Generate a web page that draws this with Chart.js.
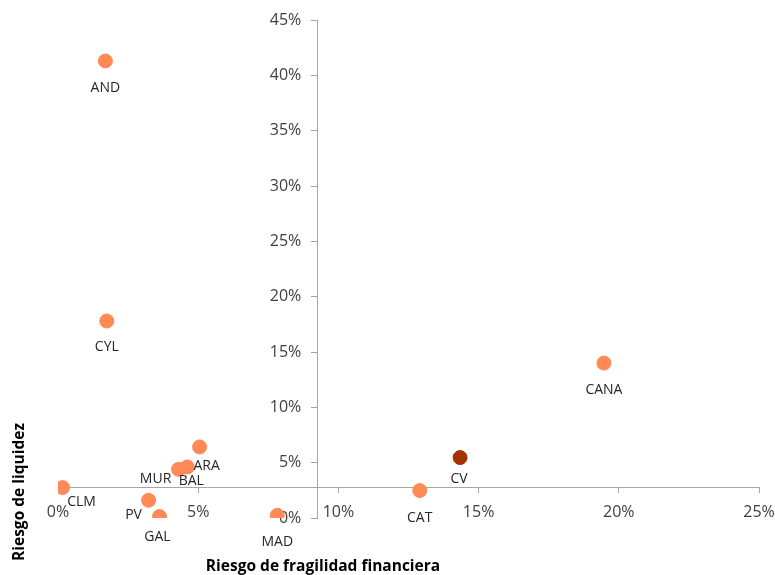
<!DOCTYPE html>
<html>
<head>
<meta charset="utf-8">
<script src="https://cdn.jsdelivr.net/npm/chart.js@4/dist/chart.umd.min.js"></script>
<style>
  body { margin: 0; background: #fff; }
  canvas { display: block; }
</style>
</head>
<body>
<canvas id="riskChart" width="775" height="575"></canvas>
<script>
// regiones y valores (fracciones)
const regions = ['AND', 'CYL', 'CANA', 'CV', 'CAT', 'ARA', 'BAL', 'MUR', 'CLM', 'PV', 'GAL', 'MAD'];
const fragilidad = [0.0169, 0.0174, 0.1947, 0.1434, 0.1290, 0.0505, 0.0461, 0.0430, 0.0016, 0.0323, 0.0362, 0.0782];
const liquidez = [0.413, 0.178, 0.140, 0.0546, 0.0248, 0.0642, 0.0461, 0.0440, 0.0275, 0.0160, 0.0013, 0.0024];
const xTicks = [0, 0.05, 0.10, 0.15, 0.20, 0.25];
const yTicks = [0, 0.05, 0.10, 0.15, 0.20, 0.25, 0.30, 0.35, 0.40, 0.45];
// cruce de ejes
const crossX = 0.0927;
const crossY = 0.028;

// desplazamiento de las etiquetas respecto al punto (px)
const labelOffsets = [[0, 27], [0, 26], [0, 27], [-1, 21], [0, 27], [7, 19], [4, 14], [-23, 10], [19, 14], [-15, 15], [-2, 20], [0, 27]];

const orange = '#FF8A55';
const dark = '#A33300';
const colors = regions.map(r => r === 'CV' ? dark : orange);

const pointLabels = {
  id: 'pointLabels',
  afterDatasetsDraw(chart) {
    const ctx = chart.ctx;
    const meta = chart.getDatasetMeta(0);
    ctx.save();
    ctx.font = '14px "Open Sans", sans-serif';
    ctx.fillStyle = '#262626';
    ctx.textAlign = 'center';
    ctx.textBaseline = 'middle';
    meta.data.forEach((pt, i) => {
      ctx.fillText(regions[i], pt.x + labelOffsets[i][0], pt.y + labelOffsets[i][1]);
    });
    ctx.restore();
  }
};

const axisTitles = {
  id: 'axisTitles',
  afterDraw(chart) {
    const ctx = chart.ctx;
    ctx.save();
    ctx.font = 'bold 15.5px "Open Sans", sans-serif';
    ctx.fillStyle = '#000';
    ctx.textAlign = 'center';
    ctx.textBaseline = 'middle';
    ctx.fillText('Riesgo de fragilidad financiera', 323, 567);
    ctx.translate(20, 492);
    ctx.rotate(-Math.PI / 2);
    ctx.fillText('Riesgo de liquidez', 0, 0);
    ctx.restore();
  }
};

const pct = v => Math.round(v * 100) + '%';

new Chart(document.getElementById('riskChart').getContext('2d'), {
  type: 'scatter',
  data: {
    datasets: [{
      data: regions.map((r, i) => ({ x: fragilidad[i], y: liquidez[i] })),
      backgroundColor: colors,
      borderColor: colors,
      pointRadius: 7,
      pointHoverRadius: 7
    }]
  },
  options: {
    responsive: false,
    animation: false,
    layout: { padding: { left: 58, right: 16, top: 20, bottom: 57 } },
    plugins: { legend: { display: false }, tooltip: { enabled: false } },
    scales: {
      x: {
        type: 'linear',
        min: 0,
        max: 0.25,
        position: { y: crossY },
        afterBuildTicks: axis => { axis.ticks = xTicks.map(v => ({ value: v })); },
        ticks: { callback: pct, color: '#404040', font: { family: 'Open Sans', size: 16 }, padding: 0 },
        // marca corta de 5px, el resto del tickLength solo separa la etiqueta
        grid: { drawOnChartArea: false, drawTicks: true, tickLength: 16, tickBorderDash: [5, 100], color: '#A6A6A6' },
        border: { color: '#A6A6A6' }
      },
      y: {
        type: 'linear',
        min: 0,
        max: 0.45,
        position: { x: crossX },
        afterBuildTicks: axis => { axis.ticks = yTicks.map(v => ({ value: v })); },
        ticks: { callback: v => pct(v) + '    ', color: '#404040', font: { family: 'Open Sans', size: 16 }, padding: 0 },
        grid: { drawOnChartArea: false, drawTicks: true, tickLength: 6, color: '#A6A6A6' },
        border: { color: '#A6A6A6' }
      }
    }
  },
  plugins: [pointLabels, axisTitles]
});
</script>
</body>
</html>
